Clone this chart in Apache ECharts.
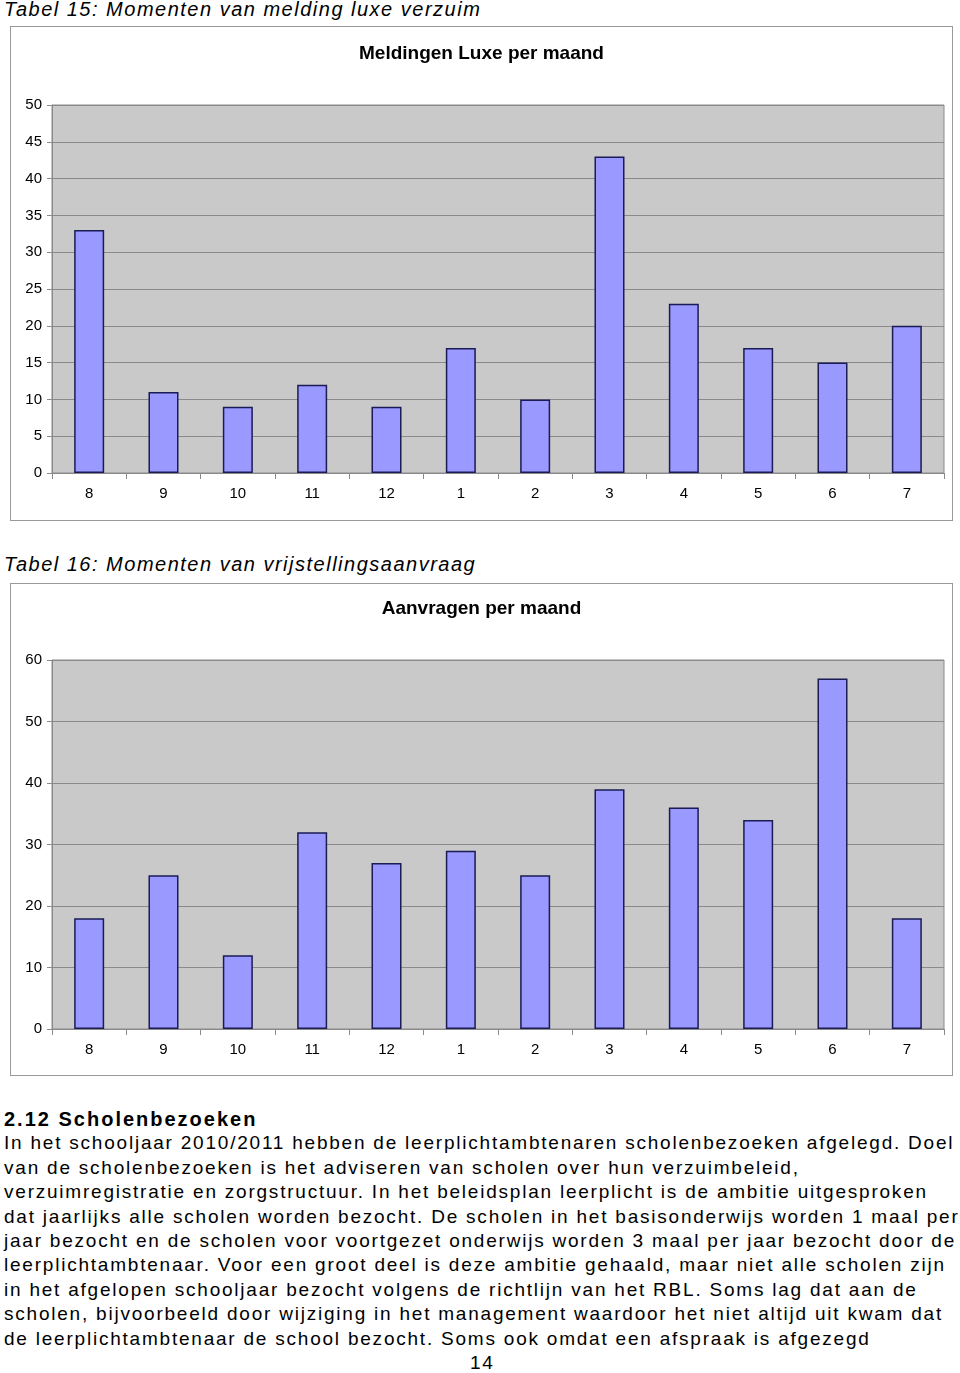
<!DOCTYPE html>
<html>
<head>
<meta charset="utf-8">
<script src="https://cdn.jsdelivr.net/npm/echarts@6/dist/echarts.min.js"></script>
<style>
  html, body { margin: 0; padding: 0; background: #fff; }
  body { width: 960px; height: 1373px; position: relative; overflow: hidden;
         font-family: "Liberation Sans", Arial, sans-serif; color: #000; }
  .cap { position: absolute; left: 4px; font-style: italic; font-size: 20px; letter-spacing: 1.5px; white-space: nowrap; line-height: 1; }
  .box { position: absolute; left: 10px; width: 941px; border: 1px solid #999; background: #fff; }
  .line { position: absolute; left: 4px; font-size: 19px; letter-spacing: 1.78px; white-space: nowrap; line-height: 1; }
  .h2 { font-weight: bold; font-size: 20px; letter-spacing: 2px; }
</style>
</head>
<body>
<div class="cap" style="top:-1px;">Tabel 15: Momenten van melding luxe verzuim</div>
<div id="c1" class="box" style="top:26px;height:493px;"></div>
<div class="cap" style="top:554px;">Tabel 16: Momenten van vrijstellingsaanvraag</div>
<div id="c2" class="box" style="top:583px;height:491px;"></div>
<div id="text"></div>
<script>
// ---- data ----
const months = ['8', '9', '10', '11', '12', '1', '2', '3', '4', '5', '6', '7'];
const meldingenLuxe = [33, 11, 9, 12, 9, 17, 10, 43, 23, 17, 15, 20];
const aanvragen = [18, 25, 12, 32, 27, 29, 25, 39, 36, 34, 57, 18];
const chart1Title = 'Meldingen Luxe per maand';
const chart2Title = 'Aanvragen per maand';
const yAxis1 = { min: 0, max: 50, interval: 5 };
const yAxis2 = { min: 0, max: 60, interval: 10 };
const textLines = [
  '2.12 Scholenbezoeken',
  'In het schooljaar 2010/2011 hebben de leerplichtambtenaren scholenbezoeken afgelegd. Doel',
  'van de scholenbezoeken is het adviseren van scholen over hun verzuimbeleid,',
  'verzuimregistratie en zorgstructuur. In het beleidsplan leerplicht is de ambitie uitgesproken',
  'dat jaarlijks alle scholen worden bezocht. De scholen in het basisonderwijs worden 1 maal per',
  'jaar bezocht en de scholen voor voortgezet onderwijs worden 3 maal per jaar bezocht door de',
  'leerplichtambtenaar. Voor een groot deel is deze ambitie gehaald, maar niet alle scholen zijn',
  'in het afgelopen schooljaar bezocht volgens de richtlijn van het RBL. Soms lag dat aan de',
  'scholen, bijvoorbeeld door wijziging in het management waardoor het niet altijd uit kwam dat',
  'de leerplichtambtenaar de school bezocht. Soms ook omdat een afspraak is afgezegd'
];
const pageNumber = '14';

// ---- text ----
const textHost = document.getElementById('text');
textLines.forEach(function (t, i) {
  const d = document.createElement('div');
  d.className = 'line' + (i === 0 ? ' h2' : '');
  d.style.top = (1109 + i * 24.4) + 'px';
  d.textContent = t;
  textHost.appendChild(d);
});
const pn = document.createElement('div');
pn.className = 'line';
pn.style.left = '470px';
pn.style.top = (1109 + 10 * 24.4) + 'px';
pn.textContent = pageNumber;
textHost.appendChild(pn);

// ---- charts ----
const FONT = '"Liberation Sans", Arial, sans-serif';
function makeOption(title, values, ya, titleTop, gridTop, gridBottom) {
  return {
    animation: false,
    title: {
      text: title, left: 'center', top: titleTop,
      textStyle: { fontFamily: FONT, fontSize: 19, fontWeight: 'bold', color: '#000' }
    },
    grid: {
      left: 41, right: 8, top: gridTop, bottom: gridBottom,
      show: true, backgroundColor: '#C9C9C9', borderColor: '#8a8a8a', borderWidth: 1
    },
    xAxis: {
      type: 'category', data: months, boundaryGap: true,
      axisLine: { show: true, lineStyle: { color: '#8a8a8a', width: 1 } },
      axisTick: { show: true, length: 6, lineStyle: { color: '#8a8a8a' } },
      axisLabel: { fontFamily: FONT, fontSize: 15, color: '#000', margin: 13 },
      splitLine: { show: false }
    },
    yAxis: {
      type: 'value', min: ya.min, max: ya.max, interval: ya.interval,
      axisLine: { show: true, lineStyle: { color: '#8a8a8a', width: 1 } },
      axisTick: { show: true, length: 5, lineStyle: { color: '#8a8a8a' } },
      axisLabel: { fontFamily: FONT, fontSize: 15, color: '#000', margin: 10 },
      splitLine: { show: true, lineStyle: { color: '#8a8a8a', width: 1 } }
    },
    series: [{
      type: 'bar', data: values, barWidth: 30,
      itemStyle: { color: '#9999FF', borderColor: '#1b1b55', borderWidth: 1.5 }
    }]
  };
}
const c1 = echarts.init(document.getElementById('c1'), null, { renderer: 'canvas' });
c1.setOption(makeOption(chart1Title, meldingenLuxe, yAxis1, 12, 78, 47));
const c2 = echarts.init(document.getElementById('c2'), null, { renderer: 'canvas' });
c2.setOption(makeOption(chart2Title, aanvragen, yAxis2, 10, 76, 46));
</script>
</body>
</html>
